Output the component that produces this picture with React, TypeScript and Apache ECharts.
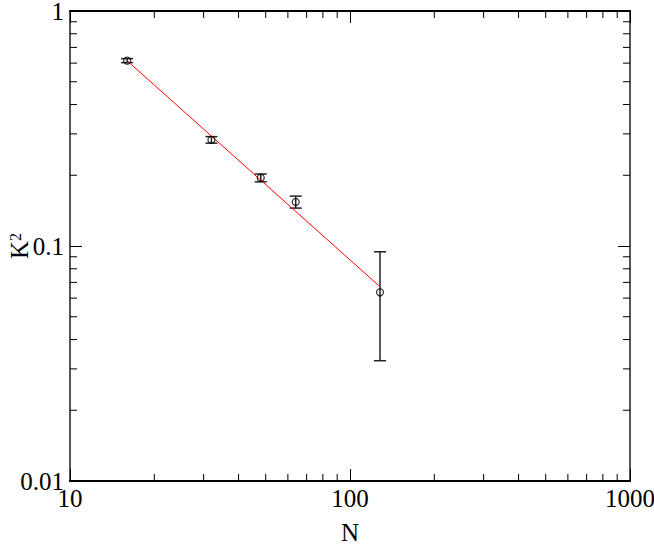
import React, { useEffect, useRef } from "react";
import * as echarts from "echarts";

// ---- data ----
const nValues = [16, 32, 48, 64, 128];
const k2Values = [0.615, 0.283, 0.195, 0.154, 0.0635];
const k2Errors = [0.012, 0.009, 0.0075, 0.009, 0.031];
const fitN = [16, 128];
const fitK2 = [0.614, 0.0671];
const xMinorTicks = [20, 30, 40, 50, 60, 70, 80, 90, 200, 300, 400, 500, 600, 700, 800, 900];
const yMinorTicks = [0.02, 0.03, 0.04, 0.05, 0.06, 0.07, 0.08, 0.09, 0.2, 0.3, 0.4, 0.5, 0.6, 0.7, 0.8, 0.9];
const xRange = { min: 10, max: 1000 };
const yRange = { min: 0.01, max: 1 };
const yTickLabels: Record<string, string> = { "1": "1", "0.1": "0.1", "0.01": "0.01" };

const FONT = "Liberation Serif";
const FS = 25;

export default function App() {
  const ref = useRef<HTMLDivElement>(null);

  useEffect(() => {
    if (!ref.current) return;
    const chart = echarts.init(ref.current, undefined, { renderer: "svg" });

    const baseX = {
      type: "log" as const,
      logBase: 10,
      min: xRange.min,
      max: xRange.max,
      splitLine: { show: false },
      axisTick: { show: true, inside: true, length: 12, lineStyle: { color: "#000", width: 1 } },
      axisLine: { show: true, lineStyle: { color: "#000", width: 2 } },
    };
    const baseY = {
      type: "log" as const,
      logBase: 10,
      min: yRange.min,
      max: yRange.max,
      splitLine: { show: false },
      axisTick: { show: true, inside: true, length: 12, lineStyle: { color: "#000", width: 1 } },
      axisLine: { show: true, lineStyle: { color: "#555", width: 2 } },
    };

    const errData = nValues.map((n, i) => [n, k2Values[i] - k2Errors[i], k2Values[i] + k2Errors[i]]);

    chart.setOption({
      animation: false,
      backgroundColor: "#fff",
      grid: { left: 70, right: 24, top: 11, bottom: 64, containLabel: false, outerBoundsMode: "none" },
      xAxis: [
        {
          ...baseX,
          position: "bottom",
          name: "N",
          nameLocation: "middle",
          nameGap: 39,
          nameMoveOverlap: false,
          nameTextStyle: { fontFamily: FONT, fontSize: FS, color: "#000" },
          axisLabel: {
            show: true,
            fontFamily: FONT,
            fontSize: FS,
            lineHeight: 20,
            color: "#000",
            margin: 7,
            formatter: (v: number) => String(Math.round(v)),
          },
        },
        { ...baseX, position: "top", axisLabel: { show: false } },
      ],
      yAxis: [
        {
          ...baseY,
          position: "left",
          name: "{k|K}{s|2}",
          nameLocation: "middle",
          nameGap: 38,
          nameRotate: 90,
          nameMoveOverlap: false,
          nameTextStyle: {
            fontFamily: FONT,
            fontSize: FS,
            color: "#000",
            rich: {
              k: { fontFamily: FONT, fontSize: FS, color: "#000" },
              s: { fontFamily: FONT, fontSize: 16, color: "#000", verticalAlign: "top" },
            },
          },
          axisLabel: {
            show: true,
            fontFamily: FONT,
            fontSize: FS,
            lineHeight: 20,
            color: "#000",
            margin: 6,
            formatter: (v: number) => {
              const key = v >= 0.5 ? "1" : v >= 0.05 ? "0.1" : "0.01";
              return yTickLabels[key];
            },
          },
        },
        { ...baseY, position: "right", axisLabel: { show: false } },
      ],
      series: [
        {
          type: "custom",
          name: "xminor",
          xAxisIndex: 0,
          yAxisIndex: 0,
          silent: true,
          clip: false,
          data: xMinorTicks.map((v) => [v, yRange.min]),
          encode: { x: 0, y: 1 },
          renderItem: (params: any, api: any) => {
            const p = api.coord([api.value(0), api.value(1)]);
            const cs = params.coordSys;
            const top = cs.y;
            const bottom = cs.y + cs.height;
            const style = { stroke: "#000", lineWidth: 1 };
            return {
              type: "group",
              children: [
                { type: "line", shape: { x1: p[0], y1: bottom, x2: p[0], y2: bottom - 7 }, style },
                { type: "line", shape: { x1: p[0], y1: top, x2: p[0], y2: top + 7 }, style },
              ],
            };
          },
        },
        {
          type: "custom",
          name: "yminor",
          xAxisIndex: 0,
          yAxisIndex: 0,
          silent: true,
          clip: false,
          data: yMinorTicks.map((v) => [xRange.min, v]),
          encode: { x: 0, y: 1 },
          renderItem: (params: any, api: any) => {
            const p = api.coord([api.value(0), api.value(1)]);
            const cs = params.coordSys;
            const left = cs.x;
            const right = cs.x + cs.width;
            const style = { stroke: "#000", lineWidth: 1 };
            return {
              type: "group",
              children: [
                { type: "line", shape: { x1: left, y1: p[1], x2: left + 7, y2: p[1] }, style },
                { type: "line", shape: { x1: right, y1: p[1], x2: right - 7, y2: p[1] }, style },
              ],
            };
          },
        },
        {
          type: "custom",
          name: "errors",
          xAxisIndex: 0,
          yAxisIndex: 0,
          data: errData,
          encode: { x: 0, y: [1, 2] },
          renderItem: (params: any, api: any) => {
            const x = api.value(0);
            const lo = api.coord([x, api.value(1)]);
            const hi = api.coord([x, api.value(2)]);
            const cap = 6;
            const style = { stroke: "#222", lineWidth: 1.5 };
            return {
              type: "group",
              children: [
                { type: "line", shape: { x1: lo[0], y1: lo[1], x2: hi[0], y2: hi[1] }, style },
                { type: "line", shape: { x1: lo[0] - cap, y1: lo[1], x2: lo[0] + cap, y2: lo[1] }, style },
                { type: "line", shape: { x1: hi[0] - cap, y1: hi[1], x2: hi[0] + cap, y2: hi[1] }, style },
              ],
            };
          },
        },
        {
          type: "line",
          name: "fit",
          data: fitN.map((n, i) => [n, fitK2[i]]),
          showSymbol: false,
          symbol: "none",
          lineStyle: { color: "#ff0000", width: 1 },
          z: 3,
        },
        {
          type: "scatter",
          name: "K2",
          data: nValues.map((n, i) => [n, k2Values[i]]),
          symbol: "circle",
          symbolSize: 7,
          itemStyle: { color: "rgba(255,255,255,0)", borderColor: "#000", borderWidth: 1.2 },
          z: 4,
        },
      ],
    });

    return () => chart.dispose();
  }, []);

  return (
    <div
      ref={ref}
      style={{ position: "fixed", left: 0, top: 0, width: 654, height: 545, background: "#fff" }}
    />
  );
}
